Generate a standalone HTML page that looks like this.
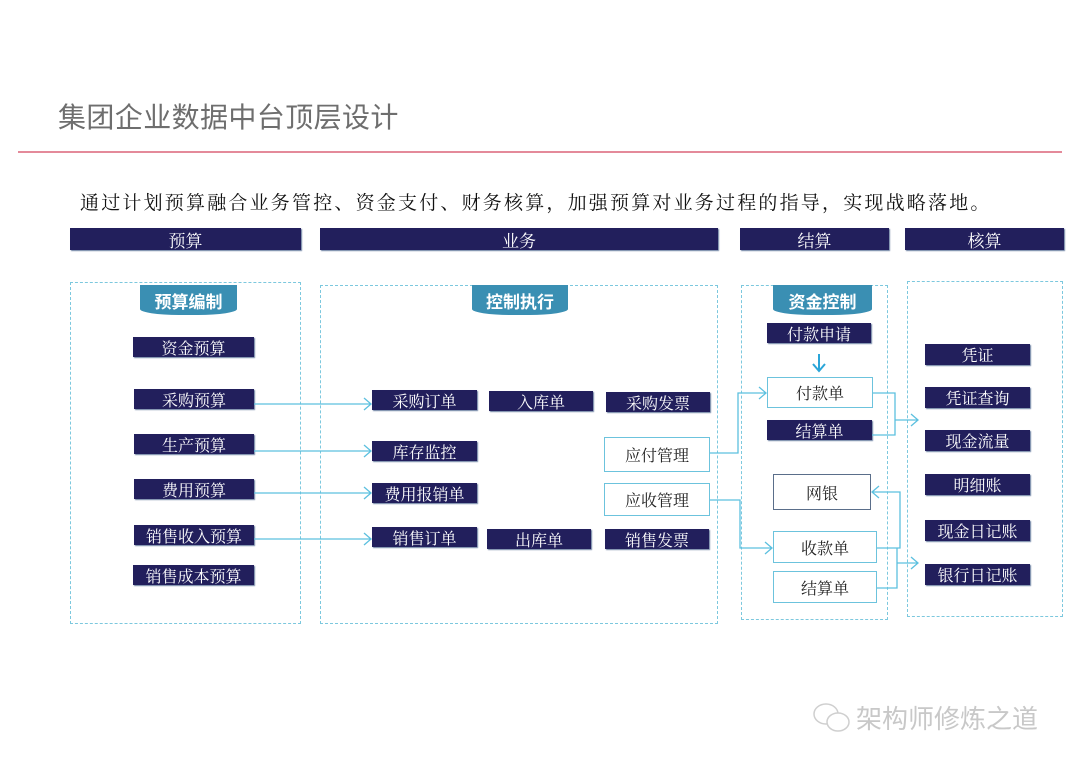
<!DOCTYPE html>
<html><head><meta charset="utf-8"><style>
body{margin:0;width:1080px;height:764px;background:#fff;position:relative;overflow:hidden;font-family:"Liberation Serif","Noto Serif CJK SC",serif}
.a{position:absolute;box-sizing:border-box;display:flex;align-items:center;justify-content:center;white-space:nowrap}
.d{background:#221f5c;color:#fff;font-size:16px;box-shadow:1px 1px 1px #6a7fa0}
.w{background:#fff;color:#222;border:1.5px solid #6cc3dd;font-size:16px}
.h{background:#221f5c;color:#fff;font-size:17px;box-shadow:1px 1px 1px #6a7fa0}
.box{position:absolute;border:1.5px dashed #7cc8de;box-sizing:border-box}
.tab{background:#3a8fb3;color:#fff;font-size:17px;font-weight:bold;font-family:"Liberation Sans","Noto Sans CJK SC",sans-serif;border-radius:0 0 40% 40%/0 0 6px 6px}
</style></head><body>
<div style="position:absolute;left:58px;top:96px;font-family:'Liberation Sans','Noto Sans CJK SC',sans-serif;font-size:28px;color:#6e6e6e;letter-spacing:0.4px">集团企业数据中台顶层设计</div>
<div style="position:absolute;left:18px;top:151px;width:1044px;height:2px;background:#e48a9a"></div>
<div style="position:absolute;left:80px;top:188px;font-size:19px;letter-spacing:2.2px;color:#111">通过计划预算融合业务管控、资金支付、财务核算，加强预算对业务过程的指导，实现战略落地。</div>

<div class="a h" style="left:70px;top:228px;width:231px;height:22px">预算</div>
<div class="a h" style="left:320px;top:228px;width:398px;height:22px">业务</div>
<div class="a h" style="left:740px;top:228px;width:149px;height:22px">结算</div>
<div class="a h" style="left:905px;top:228px;width:159px;height:22px">核算</div>

<div class="box" style="left:70px;top:282px;width:231px;height:342px"></div>
<div class="box" style="left:320px;top:285px;width:398px;height:339px"></div>
<div class="box" style="left:741px;top:285px;width:147px;height:335px"></div>
<div class="box" style="left:907px;top:281px;width:156px;height:336px"></div>

<div class="a tab" style="left:140px;top:285px;width:97px;height:30px">预算编制</div>
<div class="a tab" style="left:472px;top:285px;width:96px;height:30px">控制执行</div>
<div class="a tab" style="left:773px;top:285px;width:99px;height:30px">资金控制</div>

<div class="a d" style="left:133px;top:337px;width:121px;height:20px">资金预算</div>
<div class="a d" style="left:134px;top:389px;width:120px;height:20px">采购预算</div>
<div class="a d" style="left:134px;top:434px;width:120px;height:20px">生产预算</div>
<div class="a d" style="left:134px;top:479px;width:120px;height:20px">费用预算</div>
<div class="a d" style="left:134px;top:525px;width:120px;height:20px">销售收入预算</div>
<div class="a d" style="left:133px;top:565px;width:121px;height:20px">销售成本预算</div>

<div class="a d" style="left:372px;top:390px;width:105px;height:20px">采购订单</div>
<div class="a d" style="left:489px;top:391px;width:104px;height:20px">入库单</div>
<div class="a d" style="left:606px;top:392px;width:104px;height:20px">采购发票</div>
<div class="a d" style="left:372px;top:441px;width:105px;height:20px">库存监控</div>
<div class="a d" style="left:372px;top:483px;width:105px;height:20px">费用报销单</div>
<div class="a d" style="left:372px;top:527px;width:105px;height:20px">销售订单</div>
<div class="a d" style="left:487px;top:529px;width:104px;height:20px">出库单</div>
<div class="a d" style="left:605px;top:529px;width:104px;height:20px">销售发票</div>
<div class="a w" style="left:604px;top:437px;width:106px;height:35px">应付管理</div>
<div class="a w" style="left:604px;top:483px;width:106px;height:33px">应收管理</div>

<div class="a d" style="left:767px;top:323px;width:104px;height:20px">付款申请</div>
<div class="a w" style="left:767px;top:377px;width:106px;height:31px">付款单</div>
<div class="a d" style="left:767px;top:420px;width:105px;height:20px">结算单</div>
<div class="a w" style="left:773px;top:474px;width:98px;height:36px;border-color:#5a6e8a">网银</div>
<div class="a w" style="left:773px;top:531px;width:104px;height:32px">收款单</div>
<div class="a w" style="left:773px;top:571px;width:104px;height:32px">结算单</div>

<div class="a d" style="left:925px;top:344px;width:105px;height:21px">凭证</div>
<div class="a d" style="left:925px;top:387px;width:105px;height:21px">凭证查询</div>
<div class="a d" style="left:925px;top:430px;width:105px;height:21px">现金流量</div>
<div class="a d" style="left:925px;top:474px;width:105px;height:21px">明细账</div>
<div class="a d" style="left:925px;top:520px;width:105px;height:21px">现金日记账</div>
<div class="a d" style="left:925px;top:564px;width:105px;height:21px">银行日记账</div>

<svg width="1080" height="764" style="position:absolute;left:0;top:0" fill="none" stroke="#5cc0df" stroke-width="1.3">
<g>
<path d="M254 404H371M364 398l7 6-7 6"/>
<path d="M254 451H371M364 445l7 6-7 6"/>
<path d="M254 493H371M364 487l7 6-7 6"/>
<path d="M254 539H371M364 533l7 6-7 6"/>
<path d="M710 453H738V393H766M759 387l7 6-7 6"/>
<path d="M710 500H740V548H772M765 542l7 6-7 6"/>
<path d="M873 393H895V435H872M895 420H918M911 414l7 6-7 6"/>
<path d="M877 548H900V492H872M879 486l-7 6 7 6"/>
<path d="M877 588H897V548M897 563H918M911 557l7 6-7 6"/>
</g>
<path d="M819 354V370M813 364l6 7 6-7" stroke="#2aa5d8" stroke-width="2"/>
</svg>

<svg width="40" height="32" style="position:absolute;left:812px;top:702px" fill="none" stroke="#cfcfcf" stroke-width="1.5">
<ellipse cx="14" cy="12" rx="12" ry="10"/><ellipse cx="26" cy="20" rx="11" ry="9" fill="#fff"/>
</svg>
<div style="position:absolute;left:856px;top:699px;font-family:'Liberation Sans','Noto Sans CJK SC',sans-serif;font-size:26px;color:#c8c8c8">架构师修炼之道</div>
</body></html>
